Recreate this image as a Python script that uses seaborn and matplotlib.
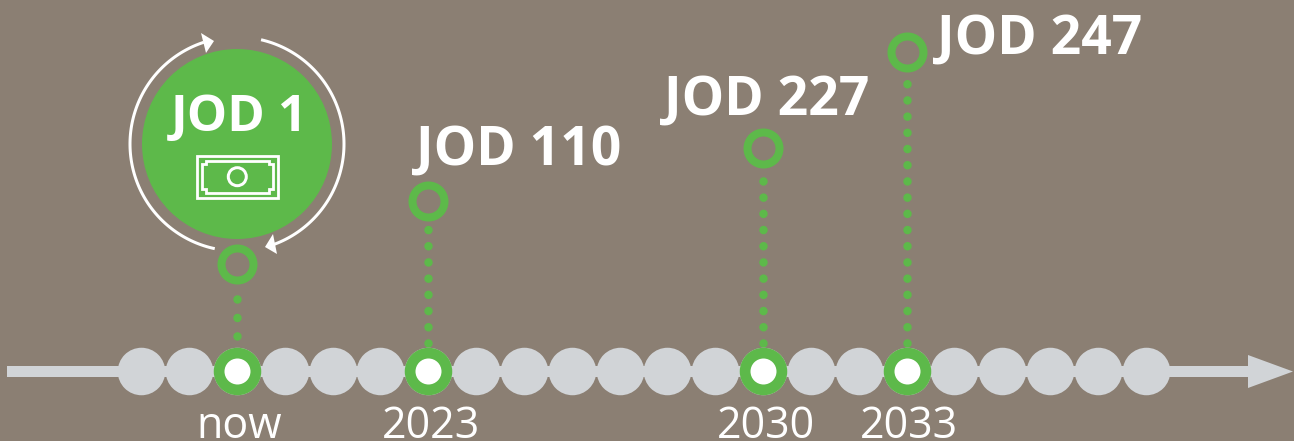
"""Timeline of JOD value by year, dots on a horizontal arrow."""

import matplotlib
matplotlib.use("Agg")

import matplotlib.pyplot as plt
import numpy as np
import pandas as pd
import seaborn as sns
from matplotlib.patches import Circle, Polygon, Rectangle
from matplotlib.transforms import ScaledTranslation

BG = "#8b7f73"
GREY = "#d1d4d7"
GREEN = "#5db94a"
WHITE = "#ffffff"

# one dot per year along the arrow
all_years = list(range(2017, 2039))

# highlighted years
years = [2019, 2023, 2030, 2033]
tick_labels = ["now", "2023", "2030", "2033"]
values = ["JOD 1", "JOD 110", "JOD 227", "JOD 247"]
# height of each ring above the arrow, in pixels (not to scale with the value)
ring_heights = [107, 170, 223, 319]

W, H = 1294, 441
PX = 72 / 100  # points per pixel at dpi=100


def size(px):
    """scatter area for a marker of diameter px"""
    return (px * PX) ** 2


sns.set_theme(style="white")
plt.rcParams["font.family"] = ["Open Sans", "DejaVu Sans"]

fig = plt.figure(figsize=(W / 100, H / 100), dpi=100, facecolor=BG)

# pixel axes underneath, holds the arrow and the big circle
bg = fig.add_axes([0, 0, 1, 1], zorder=0)
bg.set_xlim(0, W)
bg.set_ylim(H, 0)
bg.axis("off")

bg.add_patch(Rectangle((7, 366), 1245, 11, fc=GREY, ec="none"))
bg.add_patch(Polygon([(1248, 355), (1293, 371.5), (1248, 388)], fc=GREY, ec="none"))

cx, cy = 237, 144
bg.add_patch(Circle((cx, cy), 95, fc=GREEN, ec="none"))
bg.text(cx + 2, 131, values[0], color=WHITE, fontsize=36.5, fontweight="bold",
        ha="center", va="baseline")

# circular arrows
for a0, a1 in [(258, 108), (77, -72)]:
    t = np.radians(np.linspace(a0, a1, 100))
    bg.plot(cx + 107 * np.cos(t), cy - 107 * np.sin(t), color=WHITE, lw=3 * PX,
            solid_capstyle="butt")
bg.add_patch(Polygon([(214, 41), (201, 33), (206, 53)], fc=WHITE, ec="none"))
bg.add_patch(Polygon([(265, 247), (273, 234), (277, 254)], fc=WHITE, ec="none"))

# banknote icon
bg.add_patch(Rectangle((197, 155.5), 81, 42.5, fc="none", ec=WHITE, lw=2.8 * PX))
note = [(206, 160.5), (269, 160.5), (269, 164), (273, 164), (273, 189), (269, 189),
        (269, 192.5), (206, 192.5), (206, 189), (202, 189), (202, 164), (206, 164)]
bg.add_patch(Polygon(note, closed=True, fc="none", ec=WHITE, lw=2.8 * PX))
bg.add_patch(Circle((237.3, 176.7), 9, fc="none", ec=WHITE, lw=3 * PX))

# main axes: years on x, pixels above the arrow on y
ax = fig.add_axes([0, 41 / H, 1, 400 / H], zorder=1)
ax.patch.set_alpha(0)
year_per_px = 1 / 47.83
x0 = 2019 - 237 * year_per_px
ax.set_xlim(x0, x0 + W * year_per_px)
ax.set_ylim(-29, 371)
sns.despine(ax=ax, left=True, bottom=True)

dots = pd.DataFrame({"year": all_years, "h": 0})
marks = pd.DataFrame({"year": years, "h": 0})
rings = pd.DataFrame({"year": years, "h": ring_heights})

# dotted stems: first dot height, last dot height, gap between dots (in line widths)
stem_start = [35, 28, 28, 28]
stem_end = [74, 144, 193, 290]
stem_gap = [2.166, 1.896, 1.896, 1.896]
for yr, lo, hi, gap in zip(years, stem_start, stem_end, stem_gap):
    ax.plot([yr, yr], [lo, hi], color=GREEN, lw=8.5 * PX, zorder=1,
            linestyle=(0, (0.01, gap)), dash_capstyle="round")

sns.scatterplot(data=dots, x="year", y="h", s=size(47.5), color=GREY,
                linewidth=0, ax=ax, zorder=2, legend=False)
sns.scatterplot(data=marks, x="year", y="h", s=size(47.5), color=GREEN,
                linewidth=0, ax=ax, zorder=3, legend=False)
sns.scatterplot(data=marks, x="year", y="h", s=size(26), color=WHITE,
                linewidth=0, ax=ax, zorder=4, legend=False)
sns.scatterplot(data=rings, x="year", y="h", s=size(32), color=BG,
                edgecolor=GREEN, linewidth=8 * PX, ax=ax, zorder=4, legend=False)

# value labels, first one sits inside the big circle
offsets = [(-12, 36), (-99, 33), (30, -2)]
for yr, h, txt, (dx, dy) in zip(years[1:], ring_heights[1:], values[1:], offsets):
    ax.annotate(txt, (yr, h), xytext=(dx, dy), textcoords="offset pixels",
                color=WHITE, fontsize=38.5, fontweight="bold", ha="left", va="baseline")

ax.set_xticks(years)
ax.set_xticklabels(tick_labels)
ax.set_yticks([])
ax.set_xlabel("")
ax.set_ylabel("")
ax.tick_params(axis="x", length=0, pad=2, labelsize=31, labelcolor=WHITE)

# tick labels sit a little right of their dots
nudge = ScaledTranslation(2.5 / 100, -1.5 / 100, fig.dpi_scale_trans)
for lbl in ax.get_xticklabels():
    lbl.set_transform(lbl.get_transform() + nudge)

fig.savefig("out.png", dpi=100, facecolor=BG)
